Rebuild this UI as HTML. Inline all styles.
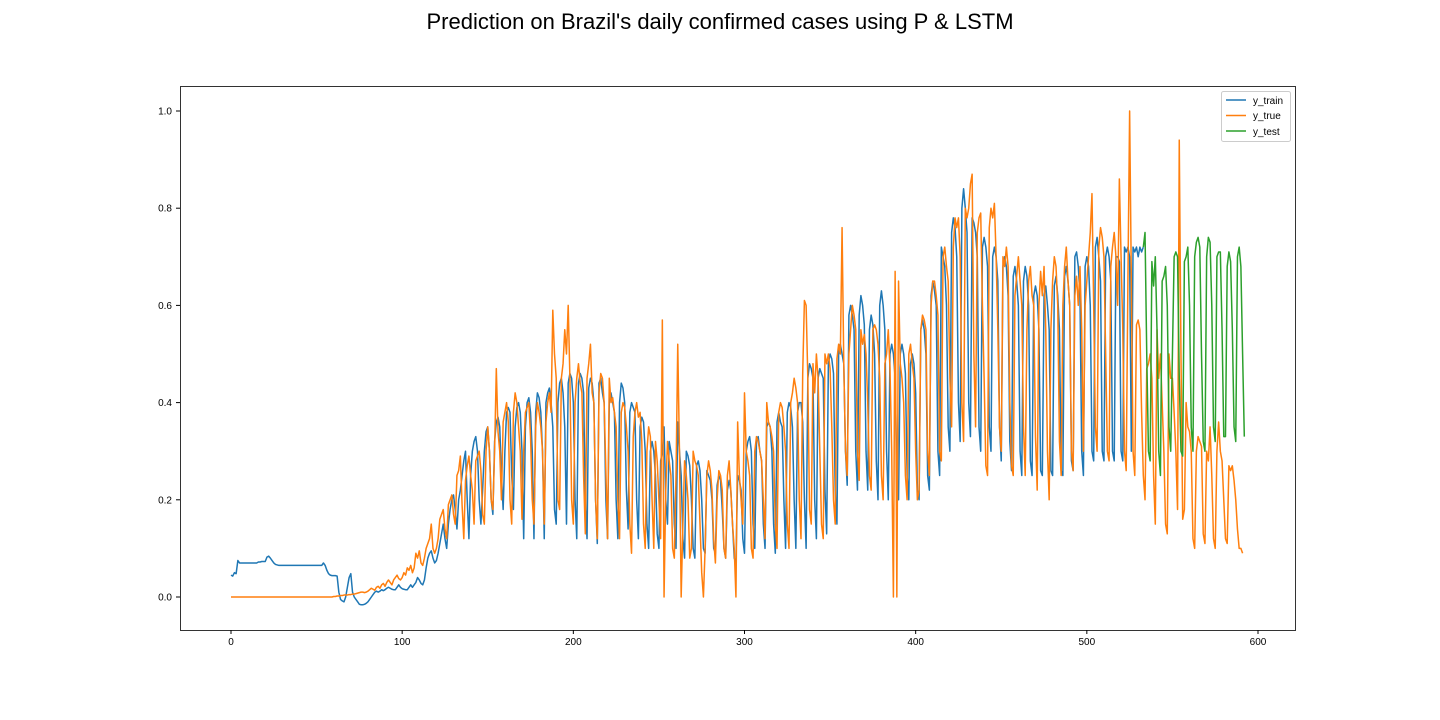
<!DOCTYPE html>
<html><head><meta charset="utf-8"><style>
body{margin:0;background:#fff;font-family:"Liberation Sans","DejaVu Sans",sans-serif}
svg{display:block}
</style></head><body>
<svg id="chart" width="1440" height="720" viewBox="0 0 1440 720">
<rect x="0" y="0" width="1440" height="720" fill="#fff"/>
<text x="720" y="29" text-anchor="middle" font-size="22" fill="#000">Prediction on Brazil's daily confirmed cases using P &amp; LSTM</text>
<g id="axes"></g>
<g id="series"></g>
<rect x="180.5" y="86.5" width="1115" height="544" fill="none" stroke="#000" stroke-width="0.8"/>
<g>
<rect x="1221.5" y="91.5" width="69" height="50" rx="2" fill="#fff" fill-opacity="0.8" stroke="#ccc"/>
<g><line x1="1226" y1="100" x2="1246" y2="100" stroke="#1f77b4" stroke-width="1.5"/><text x="1253" y="104" font-size="10">y_train</text></g>
<g><line x1="1226" y1="115.5" x2="1246" y2="115.5" stroke="#ff7f0e" stroke-width="1.5"/><text x="1253" y="119" font-size="10">y_true</text></g>
<g><line x1="1226" y1="131" x2="1246" y2="131" stroke="#2ca02c" stroke-width="1.5"/><text x="1253" y="135" font-size="10">y_test</text></g>
</g>
</svg>
<script>
const xTicks=[0,100,200,300,400,500,600];
const yTicks=[0.0,0.2,0.4,0.6,0.8,1.0];
const yTickLabels=["0.0","0.2","0.4","0.6","0.8","1.0"];
const yTrue=[0,0,0,0,0,0,0,0,0,0,0,0,0,0,0,0,0,0,0,0,0,0,0,0,0,0,0,0,0,0,0,0,0,0,0,0,0,0,0,0,0,0,0,0,0,0,0,0,0,0,0,0,0,0,0,0,0,0,0,0,
0.001,0.001,0.002,0.002,0.003,0.003,0.004,0.004,0.004,0.005,0.005,0.006,0.006,0.007,0.008,0.009,0.01,0.01,0.009,0.01,
0.012,0.015,0.018,0.016,0.014,0.02,0.022,0.018,0.025,0.028,0.022,0.03,0.035,0.03,0.025,0.035,0.04,0.045,0.038,0.035,
0.04,0.05,0.045,0.06,0.055,0.065,0.05,0.06,0.09,0.08,0.095,0.07,0.065,0.08,0.1,0.11,0.12,0.15,0.1,0.09,
0.1,0.12,0.16,0.17,0.18,0.14,0.12,0.19,0.2,0.21,0.17,0.15,0.25,0.26,0.29,0.19,0.12,0.24,0.27,0.29,
0.25,0.22,0.15,0.28,0.29,0.3,0.26,0.17,0.15,0.3,0.35,0.3,0.2,0.18,0.3,0.47,0.34,0.3,0.2,0.36,
0.38,0.4,0.36,0.2,0.15,0.38,0.42,0.4,0.35,0.3,0.16,0.3,0.38,0.39,0.4,0.33,0.2,0.15,0.35,0.4,
0.38,0.35,0.3,0.15,0.36,0.4,0.42,0.38,0.59,0.5,0.45,0.2,0.18,0.45,0.48,0.55,0.5,0.6,0.45,0.2,
0.15,0.4,0.45,0.48,0.44,0.42,0.25,0.13,0.45,0.48,0.52,0.42,0.4,0.2,0.12,0.42,0.46,0.45,0.4,0.26,
0.12,0.45,0.4,0.41,0.38,0.35,0.2,0.12,0.38,0.4,0.39,0.35,0.3,0.15,0.09,0.33,0.38,0.4,0.37,0.38,
0.32,0.15,0.1,0.3,0.35,0.33,0.2,0.1,0.32,0.28,0.2,0.12,0.57,0.0,0.22,0.32,0.28,0.25,0.1,0.08,
0.25,0.52,0.3,0.0,0.15,0.28,0.25,0.2,0.08,0.1,0.3,0.28,0.27,0.25,0.15,0.05,0.0,0.1,0.25,0.28,
0.26,0.22,0.12,0.07,0.2,0.26,0.25,0.22,0.1,0.08,0.25,0.28,0.22,0.15,0.1,0.0,0.36,0.25,0.2,0.15,
0.42,0.3,0.28,0.25,0.1,0.08,0.3,0.33,0.32,0.3,0.28,0.2,0.12,0.4,0.36,0.35,0.33,0.3,0.15,0.1,
0.38,0.4,0.39,0.35,0.3,0.15,0.1,0.4,0.42,0.45,0.43,0.4,0.2,0.12,0.46,0.61,0.6,0.45,0.18,0.15,
0.48,0.42,0.5,0.45,0.3,0.15,0.12,0.5,0.48,0.5,0.47,0.35,0.2,0.15,0.49,0.52,0.5,0.76,0.48,0.3,
0.25,0.5,0.55,0.6,0.58,0.55,0.3,0.24,0.55,0.52,0.54,0.5,0.4,0.25,0.22,0.55,0.56,0.55,0.52,0.45,
0.25,0.2,0.48,0.5,0.55,0.47,0.3,0.0,0.67,0.0,0.65,0.48,0.45,0.4,0.25,0.2,0.5,0.52,0.48,0.45,
0.3,0.2,0.22,0.55,0.58,0.57,0.55,0.3,0.25,0.6,0.65,0.65,0.62,0.58,0.3,0.28,0.7,0.72,0.68,0.65,
0.45,0.35,0.72,0.78,0.76,0.78,0.7,0.4,0.32,0.8,0.78,0.8,0.85,0.87,0.5,0.35,0.75,0.78,0.79,0.6,
0.45,0.27,0.25,0.76,0.8,0.78,0.81,0.7,0.55,0.35,0.3,0.7,0.68,0.72,0.68,0.4,0.27,0.25,0.62,0.66,
0.7,0.65,0.6,0.35,0.25,0.55,0.65,0.68,0.62,0.6,0.33,0.22,0.6,0.67,0.62,0.68,0.55,0.3,0.2,0.55,
0.65,0.7,0.68,0.6,0.32,0.25,0.6,0.68,0.72,0.65,0.6,0.3,0.26,0.62,0.66,0.6,0.68,0.55,0.3,0.6,
0.65,0.7,0.75,0.83,0.6,0.35,0.3,0.72,0.76,0.74,0.7,0.5,0.3,0.28,0.68,0.72,0.75,0.7,0.6,0.86,
0.7,0.55,0.3,0.26,0.65,1.0,0.65,0.3,0.25,0.56,0.57,0.55,0.38,0.25,0.2,0.47,0.48,0.5,0.45,0.25,
0.15,0.55,0.45,0.5,0.4,0.3,0.15,0.13,0.5,0.45,0.45,0.38,0.3,0.18,0.94,0.5,0.16,0.18,0.4,0.35,
0.34,0.3,0.12,0.1,0.3,0.33,0.32,0.31,0.13,0.11,0.3,0.28,0.35,0.25,0.12,0.1,0.3,0.36,0.3,0.28,
0.2,0.12,0.11,0.27,0.26,0.27,0.24,0.2,0.14,0.1,0.1,0.09];
const yTrain=[0.045,0.043,0.05,0.048,0.075,0.07,0.07,0.07,0.07,0.07,0.07,0.07,0.07,0.07,0.07,0.07,0.072,0.072,0.073,0.073,
0.073,0.082,0.084,0.08,0.075,0.07,0.067,0.066,0.065,0.065,0.065,0.065,0.065,0.065,0.065,0.065,0.065,0.065,0.065,0.065,
0.065,0.065,0.065,0.065,0.065,0.065,0.065,0.065,0.065,0.065,0.065,0.065,0.065,0.065,0.07,0.065,0.055,0.048,0.045,0.044,
0.044,0.044,0.043,0.01,-0.005,-0.008,-0.01,0.0,0.02,0.04,0.048,0.01,0.0,-0.005,-0.01,-0.015,-0.016,-0.016,-0.015,-0.013,
-0.01,-0.005,0.0,0.005,0.01,0.012,0.01,0.012,0.015,0.013,0.015,0.018,0.02,0.018,0.016,0.015,0.015,0.02,0.025,0.02,
0.017,0.016,0.015,0.015,0.02,0.025,0.02,0.025,0.03,0.04,0.035,0.028,0.025,0.035,0.06,0.08,0.09,0.095,0.08,0.07,
0.075,0.09,0.11,0.13,0.15,0.12,0.1,0.15,0.18,0.2,0.21,0.18,0.14,0.2,0.22,0.25,0.28,0.3,0.2,0.12,
0.25,0.3,0.32,0.33,0.3,0.2,0.15,0.22,0.3,0.34,0.35,0.3,0.2,0.17,0.32,0.36,0.37,0.35,0.25,0.18,
0.3,0.38,0.39,0.38,0.25,0.18,0.35,0.39,0.4,0.38,0.3,0.12,0.35,0.4,0.41,0.38,0.3,0.12,0.38,0.42,
0.41,0.38,0.3,0.12,0.4,0.42,0.43,0.4,0.35,0.18,0.15,0.4,0.44,0.45,0.42,0.35,0.15,0.44,0.46,0.45,
0.4,0.2,0.12,0.44,0.46,0.45,0.42,0.2,0.12,0.43,0.45,0.44,0.4,0.2,0.11,0.44,0.45,0.42,0.4,0.2,
0.12,0.4,0.42,0.4,0.38,0.2,0.12,0.4,0.44,0.43,0.4,0.22,0.14,0.38,0.4,0.39,0.38,0.2,0.12,0.35,
0.37,0.36,0.3,0.15,0.1,0.3,0.32,0.3,0.25,0.13,0.1,0.28,0.3,0.35,0.2,0.15,0.32,0.3,0.28,0.15,
0.1,0.36,0.3,0.25,0.12,0.08,0.3,0.29,0.27,0.2,0.1,0.08,0.27,0.28,0.26,0.2,0.1,0.09,0.26,0.25,
0.24,0.2,0.1,0.09,0.23,0.25,0.24,0.18,0.1,0.08,0.22,0.24,0.22,0.15,0.08,0.07,0.25,0.24,0.22,0.12,
0.09,0.3,0.32,0.33,0.3,0.15,0.1,0.32,0.33,0.3,0.28,0.15,0.1,0.35,0.36,0.35,0.3,0.15,0.09,0.36,
0.38,0.36,0.35,0.2,0.1,0.38,0.4,0.39,0.35,0.2,0.1,0.38,0.4,0.4,0.36,0.2,0.1,0.45,0.48,0.47,
0.45,0.2,0.12,0.45,0.47,0.46,0.45,0.22,0.13,0.48,0.5,0.49,0.46,0.22,0.15,0.5,0.52,0.5,0.48,0.3,
0.23,0.58,0.6,0.58,0.55,0.3,0.22,0.58,0.62,0.6,0.56,0.3,0.22,0.55,0.58,0.56,0.5,0.28,0.2,0.6,
0.63,0.6,0.55,0.3,0.2,0.5,0.52,0.5,0.45,0.25,0.2,0.5,0.52,0.5,0.46,0.25,0.2,0.48,0.5,0.48,
0.42,0.22,0.2,0.55,0.57,0.55,0.5,0.25,0.22,0.62,0.65,0.63,0.6,0.3,0.25,0.72,0.7,0.68,0.6,0.35,
0.3,0.75,0.78,0.76,0.7,0.4,0.32,0.8,0.84,0.8,0.75,0.4,0.33,0.78,0.77,0.75,0.7,0.35,0.3,0.72,
0.74,0.72,0.68,0.35,0.3,0.7,0.72,0.7,0.65,0.35,0.28,0.68,0.7,0.68,0.62,0.32,0.26,0.66,0.68,0.65,
0.6,0.3,0.25,0.65,0.68,0.66,0.6,0.28,0.25,0.62,0.64,0.62,0.55,0.26,0.25,0.62,0.64,0.6,0.55,0.26,
0.25,0.64,0.66,0.62,0.55,0.26,0.25,0.66,0.68,0.65,0.6,0.28,0.26,0.7,0.71,0.68,0.62,0.3,0.25,0.68,
0.7,0.68,0.6,0.3,0.28,0.72,0.74,0.7,0.65,0.3,0.28,0.7,0.72,0.7,0.65,0.3,0.28,0.7,0.7,0.69,
0.3,0.28,0.72,0.71,0.72,0.7,0.3,0.72,0.71,0.72,0.7,0.72,0.71,0.72];
const testStart=533;
const yTest=[0.72,0.75,0.5,0.3,0.28,0.69,0.64,0.7,0.55,0.3,0.25,0.65,0.66,0.68,0.6,0.35,0.3,0.5,0.7,0.71,0.7,0.45,0.3,0.29,0.69,0.7,0.72,0.6,0.35,0.3,0.7,0.73,0.74,0.72,0.5,0.32,0.3,0.7,0.74,0.73,0.6,0.35,0.32,0.7,0.71,0.71,0.55,0.33,0.33,0.68,0.71,0.69,0.55,0.35,0.32,0.7,0.72,0.68,0.5,0.33];

const X0=231,XS=(1258-231)/600,Y0=597,YS=486;
const xs=v=>X0+v*XS, ys=v=>Y0-v*YS;
const NS="http://www.w3.org/2000/svg";
const axes=document.getElementById('axes'), ser=document.getElementById('series');
xTicks.forEach(t=>{
  const l=document.createElementNS(NS,'line');
  l.setAttribute('x1',xs(t));l.setAttribute('x2',xs(t));l.setAttribute('y1',630);l.setAttribute('y2',634);l.setAttribute('stroke','#000');
  
  
  axes.appendChild(l);
  const tx=document.createElementNS(NS,'text');
  tx.setAttribute('x',xs(t));tx.setAttribute('y',645);tx.setAttribute('text-anchor','middle');tx.setAttribute('font-size','10');tx.textContent=t;
  
  
  axes.appendChild(tx);
});
yTicks.forEach((t,i)=>{
  const l=document.createElementNS(NS,'line');
  l.setAttribute('x1',176);l.setAttribute('x2',180);l.setAttribute('y1',ys(t));l.setAttribute('y2',ys(t));l.setAttribute('stroke','#000');
  
  
  axes.appendChild(l);
  const tx=document.createElementNS(NS,'text');
  tx.setAttribute('x',172);tx.setAttribute('y',ys(t)+3.5);tx.setAttribute('text-anchor','end');tx.setAttribute('font-size','10');tx.textContent=yTickLabels[i];
  
  
  axes.appendChild(tx);
});
function line(arr,start,color,name){
  const p=document.createElementNS(NS,'polyline');
  p.setAttribute('points',arr.map((v,i)=>xs(start+i).toFixed(2)+','+ys(v).toFixed(2)).join(' '));
  p.setAttribute('fill','none');p.setAttribute('stroke',color);p.setAttribute('stroke-width','1.5');p.setAttribute('stroke-linejoin','round');
  
  
  ser.appendChild(p);
}
line(yTrain,0,'#1f77b4','y-train-line');
line(yTrue,0,'#ff7f0e','y-true-line');
line(yTest,testStart,'#2ca02c','y-test-line');
</script>
</body></html>
